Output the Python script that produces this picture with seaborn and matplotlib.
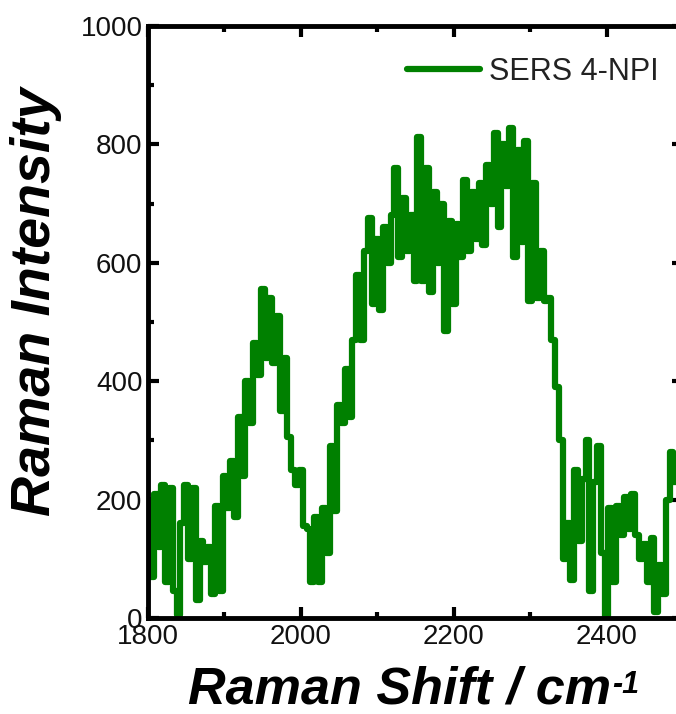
import numpy as np
import pandas as pd
import matplotlib
matplotlib.use("Agg")
import matplotlib.pyplot as plt
from matplotlib.ticker import MultipleLocator
import seaborn as sns

# SERS spectrum of 4-NPI, 1800-2500 cm^-1, sampled every 5 cm^-1
raman_shift = np.arange(1800, 2501, 5)
intensity = [
    200, 70, 210, 120, 225, 60, 220, 45, 5, 160,
    225, 100, 220, 30, 130, 95, 120, 40, 190, 45,
    240, 185, 265, 170, 340, 240, 400, 330, 465, 410,
    555, 440, 540, 430, 510, 350, 440, 305, 250, 225,
    250, 155, 150, 60, 170, 60, 185, 110, 290, 180,
    360, 330, 420, 340, 470, 580, 470, 620, 675, 530,
    640, 520, 660, 600, 680, 760, 610, 710, 620, 680,
    570, 812, 570, 760, 550, 720, 600, 700, 485, 670,
    530, 665, 610, 740, 620, 720, 640, 735, 630, 765,
    700, 820, 660, 800, 730, 828, 610, 790, 635, 805,
    535, 735, 540, 620, 535, 540, 470, 390, 300, 100,
    160, 65, 250, 130, 235, 300, 45, 230, 290, 110,
    0, 185, 60, 190, 140, 205, 150, 210, 140, 100,
    125, 60, 135, 10, 90, 40, 200, 280, 230, 80,
    150,
]
series_name = "SERS 4-NPI"

x_ticks = [1800, 2000, 2200, 2400]
y_ticks = [0, 200, 400, 600, 800, 1000]

df = pd.DataFrame({"shift": raman_shift, "intensity": intensity, "sample": series_name})

sns.set_theme(style="ticks")
plt.rcParams["font.family"] = ["Liberation Sans", "DejaVu Sans"]

fig = plt.figure(figsize=(6.76, 7.14), dpi=100)
ax = fig.add_axes([148 / 676, 96 / 714, 535 / 676, 592 / 714])

sns.lineplot(data=df, x="shift", y="intensity", hue="sample",
             palette=["#008000"], linewidth=4.5, drawstyle="steps-mid",
             ax=ax)

ax.set_xlim(1800, 2500)
ax.set_ylim(0, 1000)
ax.set_xticks(x_ticks)
ax.set_yticks(y_ticks)
ax.xaxis.set_minor_locator(MultipleLocator(100))
ax.yaxis.set_minor_locator(MultipleLocator(100))

for side in ["left", "right", "top", "bottom"]:
    ax.spines[side].set_visible(True)
    ax.spines[side].set_linewidth(3.5)
    ax.spines[side].set_color("black")

ax.tick_params(which="both", direction="in", top=True, right=True,
               color="black", labelsize=20, labelcolor="#111111")
ax.tick_params(which="major", length=8, width=3, pad=4)
ax.tick_params(which="minor", length=4.5, width=3)

label_style = dict(fontweight="bold", fontstyle="italic", color="black")
ax.set_xlabel("Raman Shift / cm", fontsize=37.5, **label_style)
ax.xaxis.set_label_coords(0.47, -0.08)
ax.set_ylabel("Raman Intensity", fontsize=40, **label_style)
ax.yaxis.set_label_coords(-0.161, 0.534)

# superscript "-1" of the unit
ax.annotate("-1", xy=(1.0, 1.0), xycoords=ax.xaxis.label,
            xytext=(1, -3), textcoords="offset points",
            ha="left", va="top", fontsize=22, **label_style)

leg = ax.legend(loc="upper left", bbox_to_anchor=(0.484, 0.948), frameon=False,
                fontsize=22, handlelength=2.4, handletextpad=0.3,
                borderpad=0, borderaxespad=0)
for line in leg.get_lines():
    line.set_linewidth(4.5)
for t in leg.get_texts():
    t.set_color("#222222")

fig.savefig("out.png", dpi=100)
